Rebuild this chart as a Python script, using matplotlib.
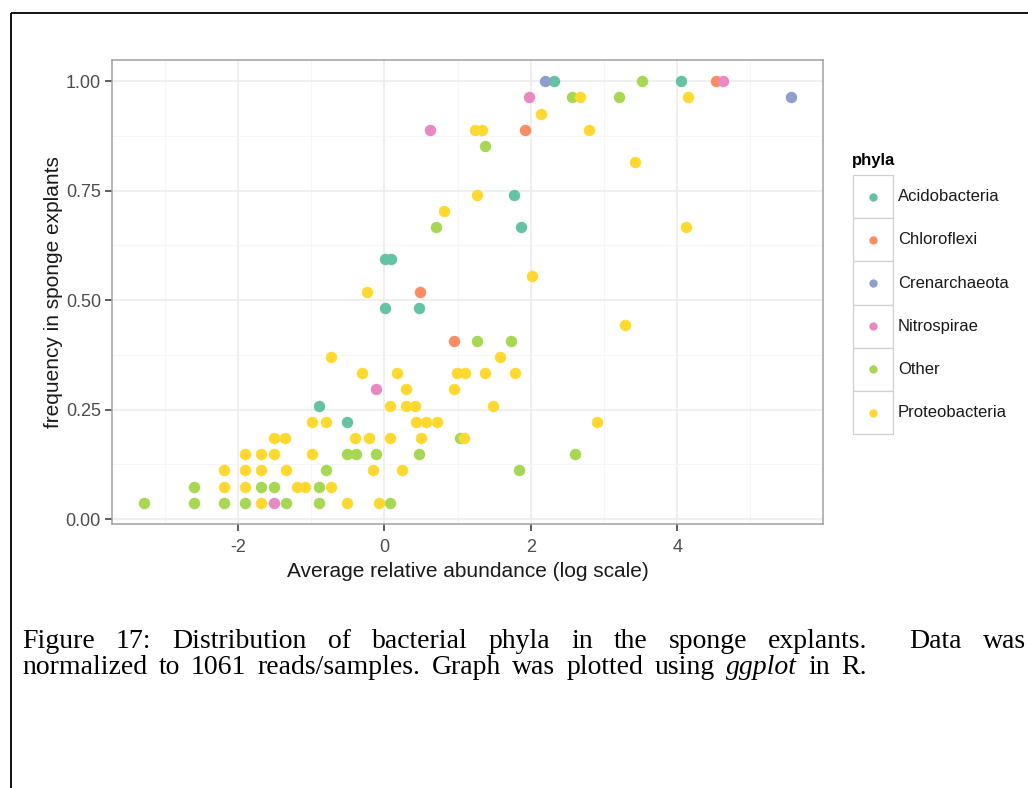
import matplotlib
matplotlib.use("Agg")
import matplotlib.pyplot as plt
from matplotlib.patches import Rectangle

# ---- data: average relative abundance (log scale) vs frequency in explants ----
phyla = ["Acidobacteria", "Chloroflexi", "Crenarchaeota", "Nitrospirae", "Other", "Proteobacteria"]
colors = ["#66C2A5", "#FC8D62", "#8DA0CB", "#E78AC3", "#A6D854", "#FFD92F"]

acido_x = [2.32, 4.05, 1.77, 1.86, 0.01, 0.09, 0.01, 0.47, -0.89, -0.515]
acido_y = [1.000, 1.000, 0.741, 0.667, 0.593, 0.593, 0.481, 0.481, 0.259, 0.222]

chloro_x = [4.53, 1.92, 0.49, 0.956]
chloro_y = [1.000, 0.889, 0.519, 0.407]

cren_x = [2.19, 5.55]
cren_y = [1.000, 0.963]

nitro_x = [4.63, 1.98, 0.62, -0.12, -1.51]
nitro_y = [1.000, 0.963, 0.889, 0.296, 0.037]

other_x = [3.515, 2.56, 3.20, 1.375, 0.71, 1.27, 1.73, 1.03, 2.61, 1.84,
           -0.515, -0.39, -0.11, 0.47, -0.80, -2.60, -1.68, -1.51, -0.89,
           -3.28, -2.60, -2.19, -1.90, -1.35, -0.89, 0.08]
other_y = [1.000, 0.963, 0.963, 0.852, 0.667, 0.407, 0.407, 0.185, 0.148, 0.111,
           0.148, 0.148, 0.148, 0.148, 0.111, 0.074, 0.074, 0.074, 0.074,
           0.037, 0.037, 0.037, 0.037, 0.037, 0.037, 0.037]

proteo_x = [2.67, 4.15, 2.14, 1.24, 1.33, 2.79, 3.42, 1.26, 0.81, 4.12, 2.01,
            -0.24, 3.28, -0.73, 1.58,
            -0.30, 0.17, 0.99, 1.10, 1.38, 1.79,
            0.29, 0.956,
            0.08, 0.29, 0.42, 1.48,
            -0.99, -0.80, 0.43, 0.565, 0.715, 2.90,
            -1.51, -1.36, -0.40, -0.21, 0.08, 0.50, 1.09,
            -1.90, -1.68, -1.51, -0.99,
            -2.19, -1.90, -1.68, -1.35, -0.15, 0.24,
            -2.19, -1.90, -1.20, -1.08, -0.73,
            -1.68, -0.515, -0.07]
proteo_y = [0.963, 0.963, 0.926, 0.889, 0.889, 0.889, 0.815, 0.741, 0.704, 0.667, 0.556,
            0.519, 0.444, 0.370, 0.370,
            0.333, 0.333, 0.333, 0.333, 0.333, 0.333,
            0.296, 0.296,
            0.259, 0.259, 0.259, 0.259,
            0.222, 0.222, 0.222, 0.222, 0.222, 0.222,
            0.185, 0.185, 0.185, 0.185, 0.185, 0.185, 0.185,
            0.148, 0.148, 0.148, 0.148,
            0.111, 0.111, 0.111, 0.111, 0.111, 0.111,
            0.074, 0.074, 0.074, 0.074, 0.074,
            0.037, 0.037, 0.037]

series = [(acido_x, acido_y), (chloro_x, chloro_y), (cren_x, cren_y),
          (nitro_x, nitro_y), (other_x, other_y), (proteo_x, proteo_y)]

x_ticks = [-2, 0, 2, 4]
y_ticks = [0.00, 0.25, 0.50, 0.75, 1.00]

caption_line1 = ["Figure", "17:", "Distribution", "of", "bacterial", "phyla", "in",
                 "the", "sponge", "explants.", "Data", "was"]
caption_line2 = ["normalized", "to", "1061", "reads/samples.", "Graph", "was",
                 "plotted", "using", "ggplot", "in", "R."]
caption_italic = {"ggplot"}

# ---- figure ----
W, H = 1028, 788
fig = plt.figure(figsize=(W / 100, H / 100), dpi=100)
fig.patch.set_facecolor("white")

# overlay in pixel coordinates for the page frame, legend and caption
ov = fig.add_axes([0, 0, 1, 1], zorder=0)
ov.set_xlim(0, W)
ov.set_ylim(H, 0)
ov.axis("off")
ov.add_patch(Rectangle((10.5, 12.5), 1200, 1000, fill=False, ec="black", lw=1.3))


def fx(px):
    return px / W


def fy(py):
    return 1 - py / H


sans = ["Liberation Sans", "DejaVu Sans"]
ax = fig.add_axes([fx(112), fy(524), fx(823) - fx(112), fy(60) - fy(524)], zorder=1)
ax.set_facecolor("white")

for (xs, ys), col in zip(series, colors):
    ax.scatter(xs, ys, s=68, c=col, linewidths=0, zorder=3)

ax.margins(0.05)
ax.set_xticks(x_ticks)
ax.set_xticks([-3, -1, 1, 3, 5], minor=True)
ax.set_yticks(y_ticks)
ax.set_yticks([0.125, 0.375, 0.625, 0.875], minor=True)
ax.set_yticklabels([f"{v:.2f}" for v in y_ticks])
ax.set_xticklabels([str(v) for v in x_ticks])

ax.grid(which="major", color="#EBEBEB", lw=1.1, zorder=0)
ax.grid(which="minor", color="#F6F6F6", lw=0.7, zorder=0)
ax.set_axisbelow(True)

for sp in ax.spines.values():
    sp.set_color("#A0A0A0")
    sp.set_linewidth(1.1)

ax.tick_params(which="major", direction="out", length=5, width=1.1,
               color="#333333", labelcolor="#4D4D4D", labelsize=13)
ax.tick_params(axis="x", which="major", pad=6)
ax.tick_params(axis="y", which="major", pad=3)
ax.tick_params(which="minor", length=0)
for lab in ax.get_xticklabels() + ax.get_yticklabels():
    lab.set_family(sans)

ax.set_xlabel("Average relative abundance (log scale)", fontsize=15,
              family=sans, color="#1A1A1A", labelpad=4)
ax.set_ylabel("frequency in sponge explants", fontsize=15,
              family=sans, color="#1A1A1A", labelpad=2)

# ---- legend ----
ov.text(852, 160, "phyla", fontsize=12, fontweight="bold", family=sans,
        va="center", ha="left")
row_h = 43.2
for i, (name, col) in enumerate(zip(phyla, colors)):
    top = 175 + row_h * i
    ov.add_patch(Rectangle((853, top), 40, row_h, fc="white", ec="#D0D0D0", lw=0.9))
    ov.scatter([873], [top + row_h / 2], s=36, c=col, linewidths=0, zorder=3)
    ov.text(898, top + row_h / 2, name, fontsize=12, family=sans,
            va="center", ha="left", color="#1A1A1A")

# ---- caption: words spread between the given left and right edges ----
serif = ["Liberation Serif", "DejaVu Serif"]
cap_size = 20
fig.canvas.draw()
renderer = fig.canvas.get_renderer()


def spread_words(words, baseline, left, right, wide_after=()):
    objs = [ov.text(0, baseline, w, fontsize=cap_size, family=serif,
                    fontstyle="italic" if w in caption_italic else "normal",
                    va="baseline", ha="left") for w in words]
    widths = [o.get_window_extent(renderer).width for o in objs]
    units = (len(words) - 1) + len(wide_after)
    gap = (right - left - sum(widths)) / units
    x = left
    for o, w, name in zip(objs, widths, words):
        o.set_x(x)
        x += w + gap * (2 if name in wide_after else 1)


spread_words(caption_line1, 648, 22, 1026, wide_after=("explants.",))
spread_words(caption_line2, 674, 22, 867)

fig.savefig("out.png", dpi=100, facecolor="white")
